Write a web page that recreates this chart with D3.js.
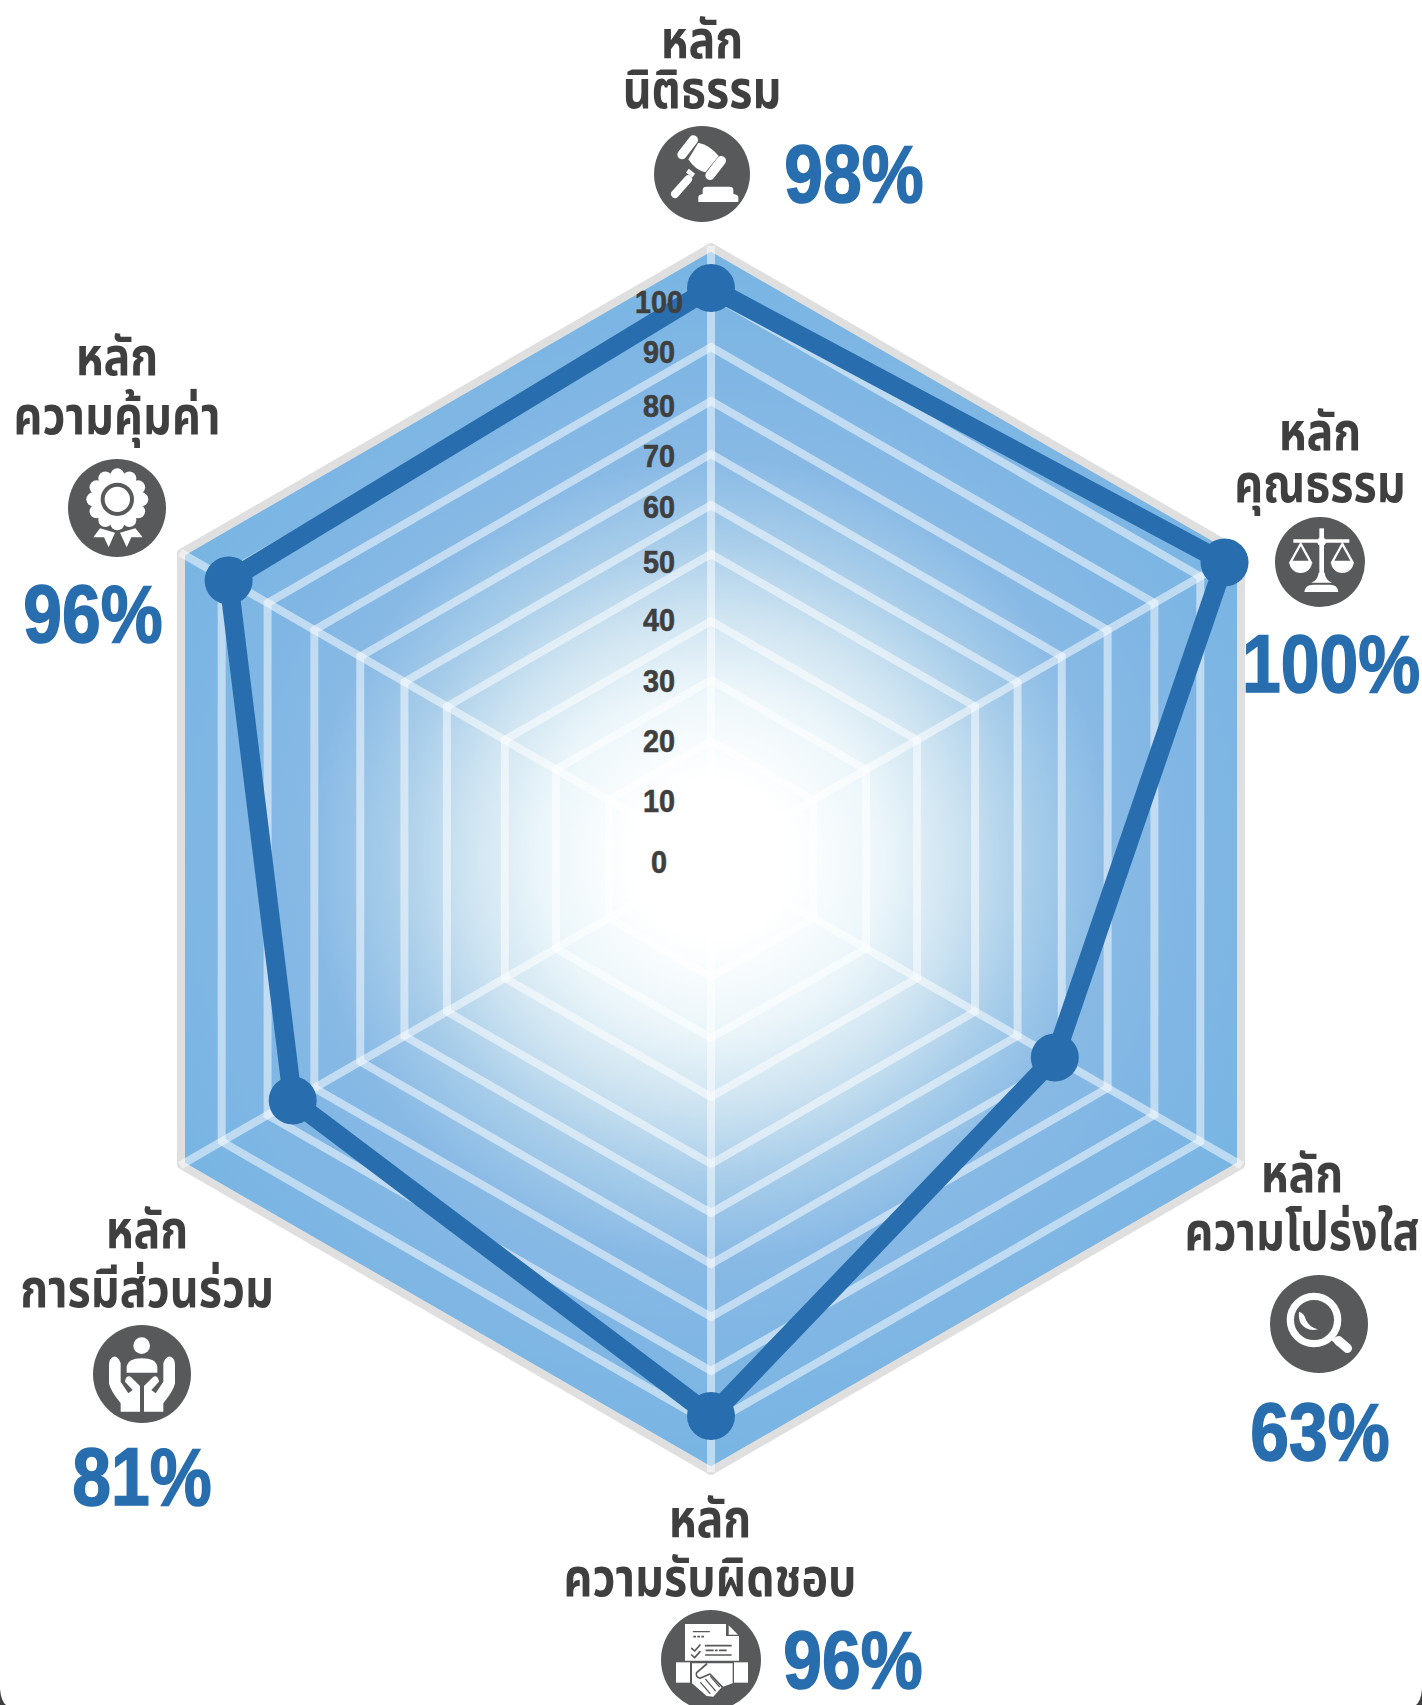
<!DOCTYPE html>
<html><head><meta charset="utf-8"><script src="https://cdnjs.cloudflare.com/ajax/libs/d3/7.8.5/d3.min.js"></script>
<style>html,body{margin:0;padding:0;background:#fff}svg{display:block}</style></head><body><div id="c"></div>
<script>
const categories=[["หลัก","นิติธรรม"],["หลัก","คุณธรรม"],["หลัก","ความโปร่งใส"],["หลัก","ความรับผิดชอบ"],["หลัก","การมีส่วนร่วม"],["หลัก","ความคุ้มค่า"]];
const values=[98,100,63,96,81,96];
const ticks=[0,10,20,30,40,50,60,70,80,90,100];
const W=1422,H=1705,cx=711,cy=859;
const gridRadius=d3.scaleLinear().domain(ticks).range([0,60,118,179,238,305,354,405,458,512,565]);
const dataRadius=d3.scaleLinear().domain([63,81,96,98,100]).range([397,483,557,571,593]);
const labelY=d3.scaleLinear().domain(ticks).range([873,812,752,692,631,573,518,467,417,363,313]);
const angle=d3.scalePoint().domain(d3.range(6)).range([0,300]);
const pt=(r,i)=>{const a=angle(i)*Math.PI/180;return [cx+r*Math.sin(a),cy-r*Math.cos(a)];};
const svg=d3.select("#c").append("svg").attr("width",W).attr("height",H);
const defs=svg.append("defs");
const g=defs.append("radialGradient").attr("id","rg").attr("gradientUnits","userSpaceOnUse").attr("cx",cx).attr("cy",cy).attr("r",608);
[[0,"#ffffff"],[.13,"#ffffff"],[.28,"#ecf6fa"],[.4,"#cfe4f1"],[.53,"#a6cce9"],[.66,"#88b9e5"],[.8,"#80b6e4"],[1,"#78b5e3"]].forEach(s=>g.append("stop").attr("offset",s[0]).attr("stop-color",s[1]));
const hex=r=>d3.range(6).map(i=>pt(r,i));
const line=d3.line().curve(d3.curveLinearClosed);
svg.append("path").attr("d",line(hex(612))).attr("fill","url(#rg)").attr("stroke","#dfdfdf").attr("stroke-width",8).attr("stroke-linejoin","round");
svg.append("g").selectAll("path").data(d3.range(6)).join("path").attr("d",i=>d3.line()([pt(0,i),pt(613,i)])).attr("stroke","#fff").attr("stroke-opacity",.5).attr("stroke-width",8);
svg.append("g").selectAll("path").data(ticks.filter(t=>t>=20)).join("path").attr("d",t=>line(hex(gridRadius(t)))).attr("fill","none").attr("stroke","#fff").attr("stroke-opacity",.5).attr("stroke-width",8);
const pts=values.map((v,i)=>pt(dataRadius(v),i));
svg.append("path").attr("d",line(pts)).attr("fill","none").attr("stroke","#286eae").attr("stroke-width",19);
svg.append("g").selectAll("circle").data(pts).join("circle").attr("cx",d=>d[0]).attr("cy",d=>d[1]).attr("r",24).attr("fill","#286eae");
svg.append("g").selectAll("text").data(ticks).join("text").attr("transform",t=>`translate(659,${labelY(t)}) scale(.93,1)`).attr("text-anchor","middle").attr("font-family","'Liberation Sans',sans-serif").attr("font-weight",700).attr("font-size",31).attr("fill","#3f3f3f").attr("stroke","#3f3f3f").attr("stroke-width",.6).text(d=>d);
// label anchors: [x, line-1 baseline, line-2 baseline, pct x, pct baseline]
const layout=[[702,58,108,854,202],[1320,450,502,1331,692],[1302,1192,1250,1320,1460],[710,1537,1596,853,1688],[147,1248,1307,142,1505],[117,375,434,93,642]];
const iconPos=[[702,174,48],[1320,562,45],[1319,1324,49],[711,1660,50],[142,1374,49],[117,508,49]];
const iconOrigin=[[560,0],[1150,390],[1150,1130],[540,1400],[0,1190],[0,310]];
const tg=svg.append("g");
categories.forEach((c,i)=>{
 const l=layout[i];
 [[c[0],l[1]],[c[1],l[2]]].forEach(([s,y])=>tg.append("text").attr("transform",`translate(${l[0]},${y}) scale(.83,1)`).attr("text-anchor","middle").attr("font-family","'Noto Sans','Noto Sans Thai',sans-serif").attr("font-weight",700).attr("font-size",54).attr("fill","#3f3f3f").text(s));
 tg.append("text").attr("transform",`translate(${l[3]},${l[4]}) scale(.86,1)`).attr("text-anchor","middle").attr("font-family","'Liberation Sans',Arial,sans-serif").attr("font-weight",700).attr("font-size",81).attr("fill","#286eae").attr("stroke","#286eae").attr("stroke-width",1.6).text(values[i]+"%");
 tg.append("circle").attr("cx",iconPos[i][0]).attr("cy",iconPos[i][1]).attr("r",iconPos[i][2]).attr("fill","#58595b");
});
// Icons, drawn in 3x crop coordinates
const ig=i=>svg.append("g").attr("transform",`translate(${iconOrigin[i][0]},${iconOrigin[i][1]}) scale(${1/3})`);
const W_="#fff",G_="#58595b";
const stroke=(s,d,w,c=W_)=>s.append("path").attr("d",d).attr("fill","none").attr("stroke",c).attr("stroke-width",w).attr("stroke-linecap","round").attr("stroke-linejoin","round");
const fill=(s,d,c=W_)=>s.append("path").attr("d",d).attr("fill",c);
// gavel
let s=ig(0);
stroke(s,"M400,420L366,464",28);stroke(s,"M484,482L450,526",28);
fill(s,"M415,428Q450,435 476,468L436,517Q405,510 385,478Z");
s.append("path").attr("d","M382,512L401,527").attr("stroke",W_).attr("stroke-width",14);
stroke(s,"M384,538L345,582",24);
fill(s,"M415,606L415,592Q415,584 428,582L428,570Q428,560 440,560L508,560Q520,560 520,570L520,582Q535,584 535,592L535,606Z");
// scales
s=ig(1);
s.append("path").attr("d","M515,415L515,575").attr("stroke",W_).attr("stroke-width",14);
s.append("path").attr("d","M430,453L598,453").attr("stroke",W_).attr("stroke-width",11);
s.append("circle").attr("cx",515).attr("cy",455).attr("r",13).attr("fill",W_);
[[452],[577]].forEach(([x])=>{
 s.append("path").attr("d",`M${x},462L${x-30},516L${x+30},516Z`).attr("fill","none").attr("stroke",W_).attr("stroke-width",7);
 fill(s,`M${x-34},516L${x+34},516A34,33 0 0 1 ${x-34},516Z`);
});
fill(s,"M506,548L524,548Q526,570 546,578L484,578Q504,570 506,548Z");
fill(s,"M463,606Q465,584 490,584L540,584Q563,584 565,606Z");
// magnifier
s=ig(2);
s.append("circle").attr("cx",492).attr("cy",570).attr("r",71).attr("fill","none").attr("stroke",W_).attr("stroke-width",22);
fill(s,"M447,545Q462,548 468,570Q478,592 504,598Q470,606 452,580Q445,565 447,545Z");
s.append("path").attr("d","M545,622L566,644").attr("stroke",W_).attr("stroke-width",12);
stroke(s,"M566,632L592,655",28);
// handshake
s=ig(3);
fill(s,"M435,672L558,672L558,708L597,708L597,782L435,782Z");
fill(s,"M566,676L594,704L566,704Z");
stroke(s,"M460,695L508,695",4,G_);
s.append("path").attr("d","M460,710L495,710").attr("stroke",G_).attr("stroke-width",5).attr("stroke-dasharray","8 4");
stroke(s,"M455,745L464,753L480,735",5,G_);stroke(s,"M455,765L464,773L480,755",5,G_);
stroke(s,"M497,737L573,737",5,G_);
s.append("path").attr("d","M497,751L560,751").attr("stroke",G_).attr("stroke-width",5).attr("stroke-dasharray","24 4 8 4");
stroke(s,"M497,765L573,765",5,G_);
fill(s,"M408,787L450,787L450,848L408,848Z");fill(s,"M582,787L624,787L624,848L582,848Z");
fill(s,"M456,790L578,790L578,850L545,862L520,890L500,888L456,850Z");
stroke(s,"M500,792L470,818Q465,830 480,835L510,822L548,862",5,G_);
stroke(s,"M482,848L510,880M497,838L526,872M512,830L538,860",4,G_);
// hands
s=ig(4);
s.append("circle").attr("cx",425).attr("cy",467).attr("r",25).attr("fill",W_);
fill(s,"M380,548L380,530Q385,505 425,505Q468,505 472,530L472,548Z");
const hand="M362,665L420,665L420,588L392,560Q378,555 375,575L398,600L385,610L362,575L362,520Q355,498 340,500Q327,505 327,525L327,580Q330,600 362,640Z";
fill(s,hand);
s.append("path").attr("d",hand).attr("fill",W_).attr("transform","translate(852,0) scale(-1,1)");
// rosette
s=ig(5);
const scallop=d3.range(12).map(k=>{const a=k*Math.PI/6;return [352+72*Math.sin(a),568-72*Math.cos(a)];});
scallop.forEach(p=>s.append("circle").attr("cx",p[0]).attr("cy",p[1]).attr("r",21).attr("fill",W_));
s.append("circle").attr("cx",352).attr("cy",568).attr("r",74).attr("fill",W_);
s.append("circle").attr("cx",352).attr("cy",568).attr("r",44).attr("fill",W_).attr("stroke",G_).attr("stroke-width",12);
fill(s,"M280,682L300,655L345,668L326,712L312,682Z");
fill(s,"M428,682L406,655L360,668L380,712L394,682Z");
// rounded page corners at the bottom
const corner=svg.append("g").attr("fill","#3f3f3f");
corner.append("path").attr("d",`M0,${H-16}Q1,${H-4} 6,${H}L0,${H}Z`);
corner.append("path").attr("d",`M${W},${H-16}Q${W-1},${H-4} ${W-6},${H}L${W},${H}Z`);
</script></body></html>
